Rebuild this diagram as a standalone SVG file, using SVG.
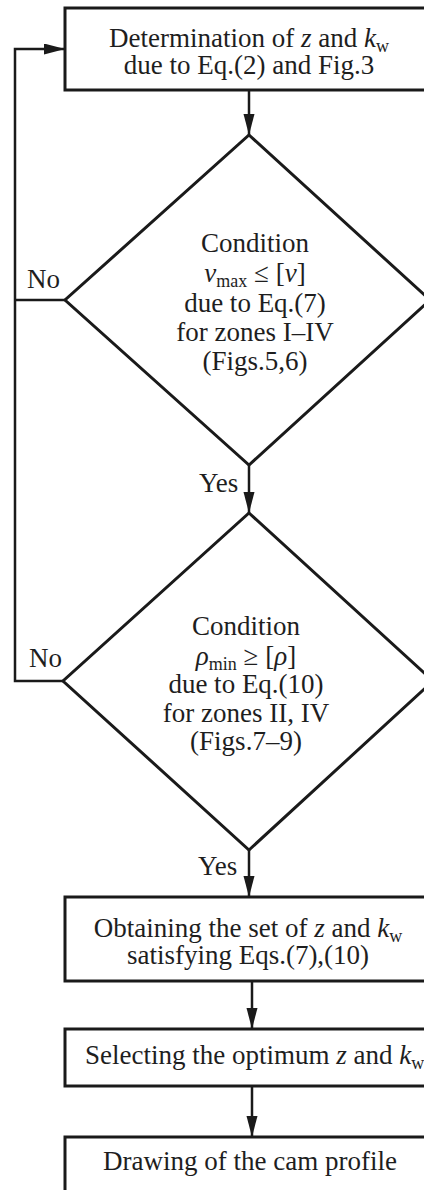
<svg xmlns="http://www.w3.org/2000/svg" width="424" height="1190" viewBox="0 0 424 1190">
  <style>
    .box { fill: #ffffff; stroke: #1a1a1a; stroke-width: 3; }
    .dia { fill: #ffffff; stroke: #1a1a1a; stroke-width: 3; stroke-linejoin: miter; }
    .con { fill: none; stroke: #1a1a1a; stroke-width: 2.5; }
    text { font-family: "Liberation Serif", "Times New Roman", serif; font-size: 27px; fill: #1e1e1e; }
    .c { text-anchor: middle; }
    .it { font-style: italic; }
    .sub { font-size: 18px; }
  </style>
  <defs>
    <marker id="arr" markerUnits="userSpaceOnUse" markerWidth="22" markerHeight="12" refX="21" refY="5.5" orient="auto">
      <path d="M0,0 L21,5.5 L0,11 z" fill="#1a1a1a"/>
    </marker>
  </defs>
  <rect width="424" height="1190" fill="#ffffff"/>

  <g id="connectors">
    <line class="con" x1="249" y1="90" x2="249" y2="135" marker-end="url(#arr)"/>
    <line class="con" x1="249" y1="465" x2="249" y2="513" marker-end="url(#arr)"/>
    <line class="con" x1="249" y1="850" x2="249" y2="897" marker-end="url(#arr)"/>
    <line class="con" x1="252" y1="981" x2="252" y2="1029" marker-end="url(#arr)"/>
    <line class="con" x1="252" y1="1086" x2="252" y2="1137" marker-end="url(#arr)"/>
    <polyline class="con" points="65,300 15,300"/>
    <polyline class="con" points="63,681 15,681 15,49 65,49" marker-end="url(#arr)"/>
    <text x="27" y="288">No</text>
    <text x="29" y="667">No</text>
    <text x="199" y="492">Yes</text>
    <text x="198" y="875">Yes</text>
  </g>

  <g id="n1">
    <rect class="box" x="65" y="8" width="370" height="82"/>
    <text class="c" x="249" y="47">Determination of <tspan class="it">z</tspan> and <tspan class="it">k</tspan><tspan class="sub" dy="5">w</tspan></text>
    <text class="c" x="249" y="74">due to Eq.(2) and Fig.3</text>
  </g>

  <g id="n2">
    <polygon class="dia" points="249,135 430,300 249,465 65,300"/>
    <text class="c" x="255" y="252">Condition</text>
    <text class="c" x="255" y="282"><tspan class="it">ν</tspan><tspan class="sub" dy="5">max</tspan><tspan dy="-5"> ≤ [</tspan><tspan class="it">ν</tspan>]</text>
    <text class="c" x="255" y="312">due to Eq.(7)</text>
    <text class="c" x="255" y="341">for zones I–IV</text>
    <text class="c" x="255" y="370">(Figs.5,6)</text>
  </g>

  <g id="n3">
    <polygon class="dia" points="249,513 433,681 249,850 63,681"/>
    <text class="c" x="246" y="635">Condition</text>
    <text class="c" x="246" y="665"><tspan class="it">ρ</tspan><tspan class="sub" dy="5">min</tspan><tspan dy="-5"> ≥ [</tspan><tspan class="it">ρ</tspan>]</text>
    <text class="c" x="246" y="693">due to Eq.(10)</text>
    <text class="c" x="246" y="722">for zones II, IV</text>
    <text class="c" x="246" y="750">(Figs.7–9)</text>
  </g>

  <g id="n4">
    <rect class="box" x="65" y="897" width="370" height="84"/>
    <text class="c" x="248" y="937">Obtaining the set of <tspan class="it">z</tspan> and <tspan class="it">k</tspan><tspan class="sub" dy="5">w</tspan></text>
    <text class="c" x="248" y="964">satisfying Eqs.(7),(10)</text>
  </g>

  <g id="n5">
    <rect class="box" x="65" y="1029" width="370" height="57"/>
    <text x="85" y="1064">Selecting the optimum <tspan class="it">z</tspan> and <tspan class="it">k</tspan><tspan class="sub" dy="5">w</tspan></text>
  </g>

  <g id="n6">
    <rect class="box" x="65" y="1137" width="370" height="80"/>
    <text class="c" x="250" y="1170">Drawing of the cam profile</text>
  </g>
</svg>
